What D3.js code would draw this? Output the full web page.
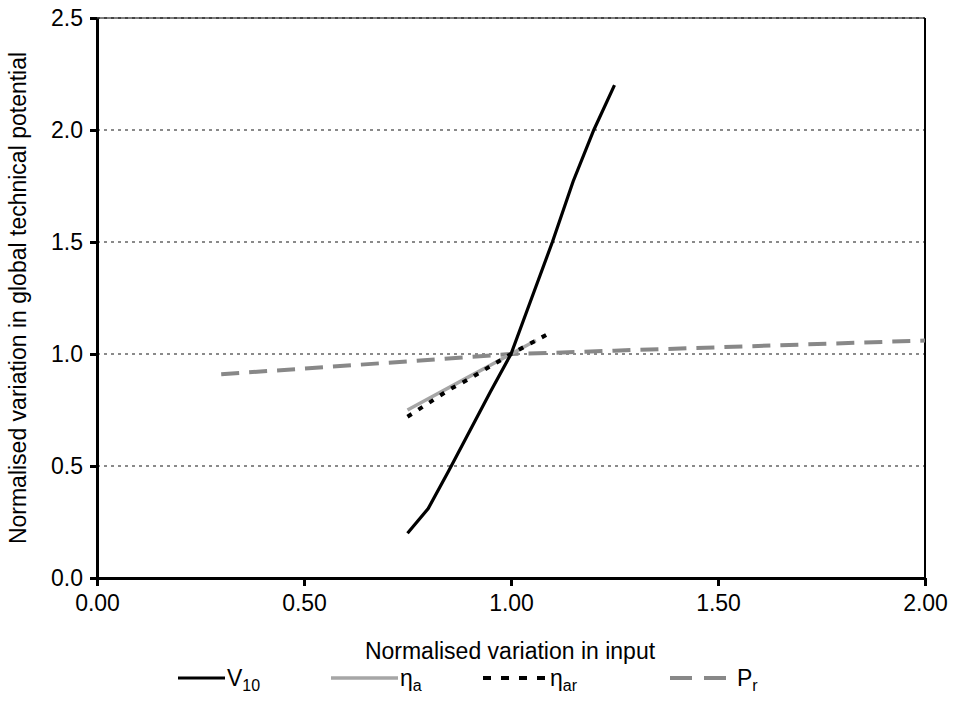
<!DOCTYPE html>
<html><head><meta charset="utf-8">
<script src="https://cdn.jsdelivr.net/npm/d3@7"></script>
<style>body{margin:0;background:#fff}svg{display:block}text{font-family:"Liberation Sans",Arial,sans-serif}</style>
</head><body><svg id="c" width="955" height="706"></svg>
<script>
const xTicks = [0, 0.5, 1.0, 1.5, 2.0];
const yTicks = [0, 0.5, 1.0, 1.5, 2.0, 2.5];
const v10X = [0.75, 0.80, 0.85, 0.90, 0.95, 1.00, 1.05, 1.10, 1.15, 1.20, 1.25];
const v10Y = [0.20, 0.31, 0.48, 0.655, 0.83, 1.00, 1.25, 1.50, 1.77, 2.00, 2.20];
const etaAX = [0.75, 0.80, 0.85, 0.90, 0.95, 1.00, 1.05, 1.06];
const etaAY = [0.75, 0.80, 0.85, 0.90, 0.95, 1.00, 1.05, 1.06];
const etaArX = [0.75, 0.80, 0.85, 0.90, 0.95, 1.00, 1.05, 1.10];
const etaArY = [0.72, 0.78, 0.84, 0.89, 0.945, 1.00, 1.05, 1.10];
const prX = [0.30, 0.50, 0.75, 1.00, 1.10, 1.25, 1.50, 2.00];
const prY = [0.91, 0.935, 0.967, 1.00, 1.005, 1.015, 1.03, 1.06];

const svg = d3.select("#c");
const m = {l: 97, r: 925, t: 18, b: 578};
const x = d3.scaleLinear().domain([0, 2]).range([m.l, m.r]);
const y = d3.scaleLinear().domain([0, 2.5]).range([m.b, m.t]);
const FS = 23;

// gridlines
svg.append("g").selectAll("line").data(yTicks.filter(d => d > 0)).join("line")
  .attr("x1", m.l).attr("x2", m.r).attr("y1", d => y(d)).attr("y2", d => y(d))
  .attr("stroke", "#8a8a8a").attr("stroke-width", 2).attr("stroke-dasharray", "3,4");
// top/right frame
svg.append("line").attr("x1", m.l).attr("x2", m.r).attr("y1", m.t).attr("y2", m.t).attr("stroke", "#000").attr("stroke-width", 1);
svg.append("line").attr("x1", m.r).attr("x2", m.r).attr("y1", m.t).attr("y2", m.b).attr("stroke", "#000").attr("stroke-width", 2);

// axes
const xa = svg.append("g").attr("transform", `translate(0,${m.b})`)
  .call(d3.axisBottom(x).tickValues(xTicks).tickFormat(d3.format(".2f")).tickSize(8).tickSizeOuter(0));
const ya = svg.append("g").attr("transform", `translate(${m.l},0)`)
  .call(d3.axisLeft(y).tickValues(yTicks).tickFormat(d3.format(".1f")).tickSize(7).tickSizeOuter(0));
[xa, ya].forEach(a => {
  a.select(".domain").attr("stroke", "#000").attr("stroke-width", 3);
  a.selectAll(".tick line").attr("stroke", "#000").attr("stroke-width", 3);
  a.selectAll(".tick text").attr("font-size", FS).attr("fill", "#000")
    .attr("font-family", "Liberation Sans, Arial, sans-serif");
});
xa.selectAll(".tick text").attr("y", 0).attr("dy", 0).attr("transform", "translate(0,33)");
ya.selectAll(".tick text").attr("x", -14);

// axis titles
svg.append("text").attr("x", 510).attr("y", 659).attr("text-anchor", "middle")
  .attr("font-size", FS).text("Normalised variation in input");
svg.append("text").attr("transform", "translate(26,298) rotate(-90)").attr("text-anchor", "middle")
  .attr("font-size", FS).text("Normalised variation in global technical potential");

const line = d3.line().x(d => x(d[0])).y(d => y(d[1]));
const series = [
  {xs: prX, ys: prY, stroke: "#888", w: 4, dash: "18,10"},
  {xs: etaAX, ys: etaAY, stroke: "#a6a6a6", w: 3.5, dash: null},
  {xs: etaArX, ys: etaArY, stroke: "#000", w: 4, dash: "5,8"},
  {xs: v10X, ys: v10Y, stroke: "#000", w: 3.2, dash: null}
];
series.forEach(s => {
  svg.append("path").datum(s.xs.map((v, i) => [v, s.ys[i]]))
    .attr("d", line).attr("fill", "none").attr("stroke", s.stroke)
    .attr("stroke-width", s.w).attr("stroke-dasharray", s.dash);
});

// legend
const leg = [
  {x1: 178, x2: 225, stroke: "#000", w: 3, dash: null, main: "V", sub: "10"},
  {x1: 331, x2: 398, stroke: "#a6a6a6", w: 3.5, dash: null, main: "η", sub: "a"},
  {x1: 483, x2: 548, stroke: "#000", w: 4, dash: "8,10", main: "η", sub: "ar"},
  {x1: 670, x2: 735, stroke: "#888", w: 4, dash: "22,12", main: "P", sub: "r"}
];
const ly = 678;
leg.forEach(l => {
  svg.append("line").attr("x1", l.x1).attr("x2", l.x2).attr("y1", ly).attr("y2", ly)
    .attr("stroke", l.stroke).attr("stroke-width", l.w).attr("stroke-dasharray", l.dash);
  const t = svg.append("text").attr("x", l.x2 + 2).attr("y", ly + 8).attr("font-size", FS);
  t.append("tspan").text(l.main);
  t.append("tspan").attr("font-size", 16).attr("dy", 5).text(l.sub);
});
</script></body></html>
